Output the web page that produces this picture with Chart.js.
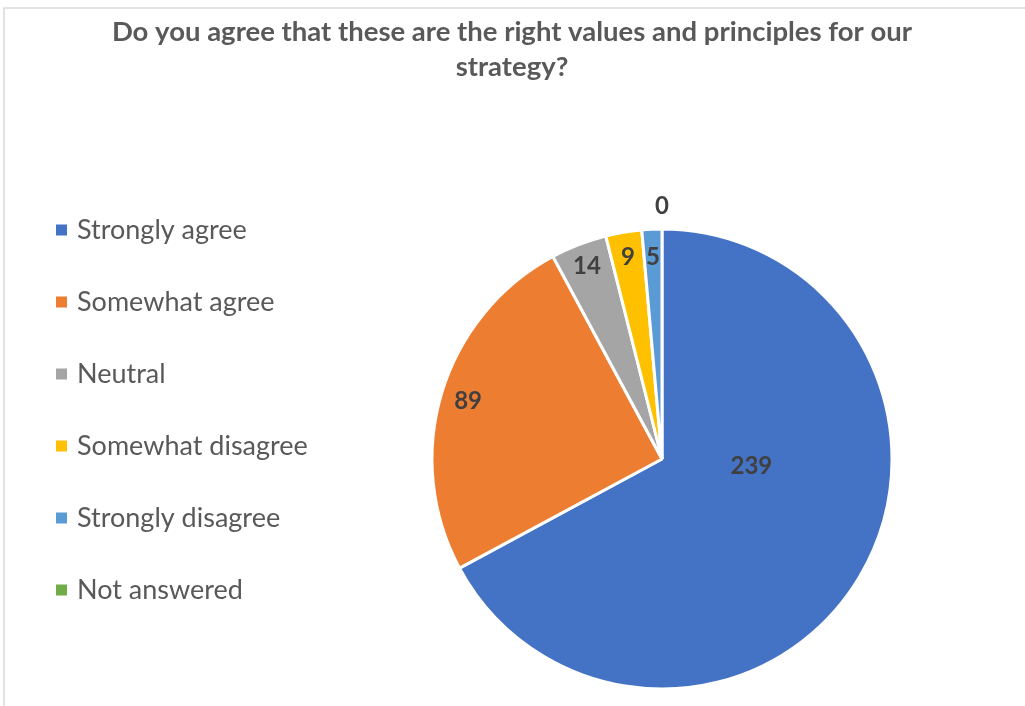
<!DOCTYPE html>
<html>
<head>
<meta charset="utf-8">
<script src="https://cdn.jsdelivr.net/npm/chart.js@4"></script>
<style>
  html, body { margin: 0; padding: 0; background: #fff; overflow: hidden; }
  #wrap { width: 1025px; height: 706px; position: relative; }
</style>
</head>
<body>
<div id="wrap"><canvas id="surveyPie"></canvas></div>
<script>
const question = ['Do you agree that these are the right values and principles for our', 'strategy?'];
const answers = ['Strongly agree', 'Somewhat agree', 'Neutral', 'Somewhat disagree', 'Strongly disagree', 'Not answered'];
const responses = [239, 89, 14, 9, 5, 0];
const sliceColors = ['#4472C4', '#ED7D31', '#A5A5A5', '#FFC000', '#5B9BD5', '#70AD47'];

// where each number sits: share of the radius, plus a small turn (degrees)
const labelReach = [0.39, 0.88, 0.9, 0.89, 0.88, 1.1];
const labelTurn = [-26, 0, 0, 0, 0, 0];

const FONT = 'Lato, "Open Sans", sans-serif';

// thin grey frame on the top and left edge
const framePlugin = {
  id: 'frame',
  beforeDraw(chart) {
    const ctx = chart.ctx;
    ctx.save();
    ctx.strokeStyle = '#d9d9d9';
    ctx.lineWidth = 1.5;
    ctx.beginPath();
    ctx.moveTo(4, chart.height);
    ctx.lineTo(4, 8);
    ctx.lineTo(chart.width, 8);
    ctx.stroke();
    ctx.restore();
  }
};

// question across the full width, above the legend and pie
const questionTitle = {
  id: 'questionTitle',
  afterDraw(chart) {
    const ctx = chart.ctx;
    ctx.save();
    ctx.font = 'bold 27.5px ' + FONT;
    ctx.fillStyle = '#595959';
    ctx.textAlign = 'center';
    ctx.textBaseline = 'alphabetic';
    question.forEach((line, i) => ctx.fillText(line, 512, 41 + i * 35));
    ctx.restore();
  }
};

// value numbers on the slices
const valueLabels = {
  id: 'valueLabels',
  afterDatasetsDraw(chart) {
    const ctx = chart.ctx;
    const meta = chart.getDatasetMeta(0);
    ctx.save();
    ctx.font = 'bold 24px ' + FONT;
    ctx.fillStyle = '#404040';
    ctx.textAlign = 'center';
    ctx.textBaseline = 'middle';
    meta.data.forEach((arc, i) => {
      const p = arc.getProps(['x', 'y', 'startAngle', 'endAngle', 'outerRadius'], true);
      const mid = (p.startAngle + p.endAngle) / 2 + labelTurn[i] * Math.PI / 180;
      const r = p.outerRadius * labelReach[i];
      ctx.fillText(String(responses[i]), p.x + Math.cos(mid) * r, p.y + Math.sin(mid) * r);
    });
    ctx.restore();
  }
};

// legend column on the left
const sideLegend = {
  id: 'sideLegend',
  afterDraw(chart) {
    const ctx = chart.ctx;
    ctx.save();
    ctx.font = '27px ' + FONT;
    ctx.textBaseline = 'middle';
    chart.data.labels.forEach((name, i) => {
      const y = 230 + i * 72;
      ctx.fillStyle = sliceColors[i];
      ctx.fillRect(56, y - 5.5, 11, 11);
      ctx.fillStyle = '#595959';
      ctx.fillText(name, 77, y);
    });
    ctx.restore();
  }
};

new Chart(document.getElementById('surveyPie'), {
  type: 'pie',
  data: {
    labels: answers,
    datasets: [{
      data: responses,
      backgroundColor: sliceColors,
      borderColor: '#ffffff',
      borderWidth: 3
    }]
  },
  options: {
    responsive: true,
    maintainAspectRatio: false,
    animation: false,
    layout: {
      padding: { left: 430.5, right: 131.5, top: 227.5, bottom: 15.5 }
    },
    plugins: {
      legend: { display: false },
      tooltip: { enabled: false },
      title: { display: false }
    }
  },
  plugins: [framePlugin, questionTitle, valueLabels, sideLegend]
});
</script>
</body>
</html>
